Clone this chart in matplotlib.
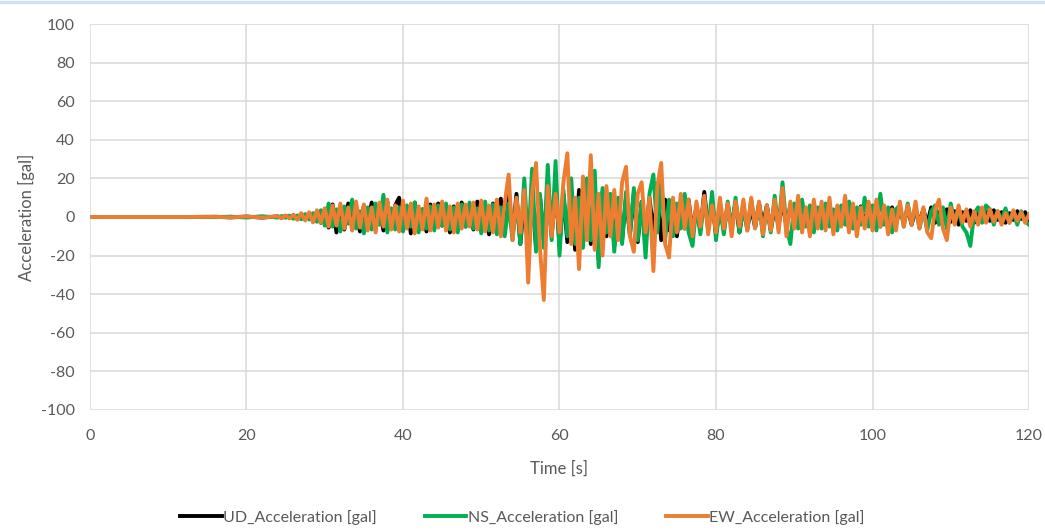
import numpy as np
import matplotlib
matplotlib.use('Agg')
import matplotlib.pyplot as plt
from matplotlib.lines import Line2D

# --- 1. DATA ---
# quiet part is sparse, the shaking part is read every 0.5 s from 24 s to 120 s
quiet_time = [0, 6, 12, 16, 18, 20, 22]
shake_time = np.arange(24, 120.25, 0.5)
time_s = np.concatenate([quiet_time, shake_time])

ud_quiet = [0.0, 0.0, 0.0, 0.1, -0.2, 0.2, -0.3]
ud_shake = [
    0.3, -0.4, 0.6, -0.5, 0.8, -1.0, 1.2, -0.8, 1.5, -1.8,        # 24
    2.5, -3.0, 4.0, -5.5, 6.5, -8.0, 5.0, -6.5, 7.0, -4.0,        # 29
    5.5, -7.5, 6.0, -3.5, 7.5, -6.0, 4.5, -7.0, 8.0, -5.5,        # 34
    6.0, 10.0, -7.0, 5.0, -8.5, 7.5, -6.0, 4.0, -7.5, 6.5,        # 39
    -5.5, 7.0, -4.5, 6.0, -8.0, 5.5, -6.5, 7.5, -5.0, 4.5,        # 44
    -6.5, 8.0, -7.0, 5.5, -9.0, 7.0, -6.0, 9.5, -8.0, 15.0,       # 49
    -10.0, 12.0, -14.0, 9.0, -18.0, 13.0, -16.0, 11.0, -12.0, 14.0,  # 54
    -10.0, 16.0, -15.0, 12.0, -13.0, 10.0, -17.0, 14.0, -11.0, 12.0,  # 59
    -14.0, 16.0, -22.0, 13.0, -10.0, 11.0, -15.0, 9.0, -12.0, 10.0,  # 64
    -9.0, 12.0, -13.0, 8.0, -11.0, 10.0, -8.0, 11.0, -12.0, 9.0,  # 69
    -7.0, 8.0, -10.0, 7.0, -6.0, 9.0, -8.0, 6.0, -7.0, 13.0,      # 74
    -6.0, 8.0, -9.0, 5.0, -7.0, 6.0, -5.0, 7.5, -8.0, 5.0,        # 79
    -6.0, 4.5, -5.5, 7.0, -4.0, 6.0, -7.0, 5.0, -4.5, 8.0,        # 84
    -5.0, 6.0, -4.0, 5.5, -6.0, 4.0, -5.0, 6.5, -3.5, 5.0,        # 89
    -4.5, 6.0, -5.0, 3.5, -4.0, 5.0, -6.0, 4.0, -3.0, 5.5,        # 94
    -4.0, 6.5, -3.5, 4.5, -5.0, 3.0, -4.0, 5.0, -3.5, 4.0,        # 99
    -3.0, 4.5, -4.0, 3.5, -2.5, 4.0, -3.5, 5.0, -3.0, 2.5,        # 104
    -3.5, 4.0, -2.5, 3.0, -4.0, 2.5, -2.0, 3.5, -3.0, 2.0,        # 109
    -2.5, 3.0, -2.0, 3.5, -1.5, 2.5, -3.0, 2.0, -1.5, 3.0,        # 114
    -1.0, 2.5, -2.0,                                              # 119
]

ns_quiet = [0.0, 0.0, 0.0, -0.1, 0.2, -0.3, 0.4]
ns_shake = [
    -0.3, 0.5, -0.4, 0.7, -0.9, 0.8, -1.2, 1.5, -1.3, 2.0,
    -2.5, 3.5, -4.5, 7.0, -5.0, 4.0, -7.5, 5.5, -3.5, 9.0,
    -6.0, 3.0, -8.5, 5.0, -6.5, 7.0, -4.0, 11.5, -8.0, 4.5,
    -6.5, 5.0, -7.5, 6.0, -5.0, 7.5, -8.0, 4.0, -6.0, 5.5,
    -7.0, 6.0, -4.5, 7.0, -6.5, 5.0, -8.0, 6.5, -5.0, 7.5,
    -6.0, 4.5, -8.5, 8.0, -7.0, 6.5, -9.0, 5.0, -10.0, 7.0,
    -12.0, 9.0, -14.0, 20.0, -15.0, 25.0, -18.0, 12.0, -16.0, 27.0,
    -12.0, 29.0, -20.0, 14.0, -10.0, 20.0, -14.0, 10.0, -16.0, 20.0,
    -12.0, 24.0, -26.0, 15.0, -8.0, 12.0, -18.0, 10.0, -14.0, 13.0,
    -10.0, 15.0, -12.0, 8.0, -21.0, 12.0, 22.0, -8.0, 18.0, -12.0,
    9.0, -10.0, 7.0, -6.0, 12.0, -8.0, -15.0, 6.0, -9.0, 10.0,
    -7.0, 13.0, -12.0, 6.0, -9.0, 8.0, -6.0, 10.0, -8.0, 5.0,
    -7.0, 9.0, -5.0, 7.0, -10.0, 6.0, -8.0, 11.0, -6.0, 18.0,
    -5.0, -14.0, 7.0, -6.0, 9.0, -5.0, 6.0, -8.0, 5.0, -6.0,
    7.0, -5.0, 4.0, -7.0, 6.0, -4.0, 8.0, -6.0, 5.0, -4.0,
    10.0, -5.0, 6.0, -7.0, 12.0, -4.0, 5.0, -8.0, 4.0, 6.0,
    -5.0, 7.0, -3.0, 5.0, -6.0, 4.0, -7.0, 3.0, 6.0, -4.0,
    5.0, -6.0, 7.0, -3.0, 4.0, -5.0, -8.0, -15.0, 2.0, 5.0,
    -3.0, 6.0, 4.0, -4.0, 3.0, -2.0, 4.5, -3.0, 2.5, -4.0,
    3.0, -2.0, -4.0,
]

ew_quiet = [0.0, 0.0, 0.0, 0.1, -0.2, 0.3, -0.3]
ew_shake = [
    0.4, -0.6, 0.8, -0.7, 1.2, -1.5, 2.0, -1.8, 2.5, -2.8,
    3.5, -3.0, 4.5, -5.0, 6.0, -4.5, 7.0, -6.0, 5.0, -7.0,
    8.0, -5.5, 6.5, -7.0, 5.0, -8.0, 7.5, -5.0, 9.0, -6.5,
    6.0, -7.5, 8.5, -6.0, 7.0, -8.5, 5.5, -6.5, 9.5, -7.0,
    6.5, -5.5, 8.0, -7.0, 5.5, -8.0, 7.0, -6.0, 6.5, -5.0,
    7.5, -6.5, 8.5, -7.5, 6.0, -8.0, 9.0, -10.0, 7.0, 22.0,
    -12.0, 10.0, -8.0, 14.0, -34.0, 12.0, 28.0, -16.0, -43.0, 16.0,
    -10.0, 12.0, -8.0, 18.0, 33.0, -14.0, 10.0, -27.0, 21.0, -12.0,
    32.0, -17.0, 12.0, -20.0, 16.0, -10.0, 14.0, -12.0, 18.0, 26.0,
    -10.0, -18.0, 12.0, 18.0, -8.0, 10.0, -28.0, 16.0, 28.0, -14.0,
    -21.0, 10.0, -8.0, 12.0, -6.0, 9.0, -10.0, 8.0, -5.0, 11.0,
    -9.0, 6.0, -8.0, 10.0, -6.0, 7.0, -10.0, 8.0, -5.0, 9.0,
    -7.0, 10.0, -6.0, 8.0, -9.0, 6.0, -7.0, 9.0, -8.0, 15.0,
    -10.0, 8.0, -6.0, 11.0, -8.0, 5.0, -10.0, 9.0, -6.0, 8.0,
    -7.0, 10.0, -9.0, 6.0, -5.0, 11.0, -8.0, 7.0, -10.0, 5.0,
    -6.0, 8.0, -7.0, 9.0, -5.0, 6.0, -9.0, 4.0, -7.0, 8.0,
    -5.0, 6.0, -4.0, 8.0, -6.0, 5.0, -8.0, -11.0, 4.0, 9.0,
    -6.0, -12.0, 5.0, -4.0, 6.0, -3.0, 4.0, -5.0, 3.0, -4.0,
    5.0, -3.0, 4.0, -2.5, 3.0, -4.0, 2.0, -3.0, 3.5, -2.0,
    2.5, -3.0, 1.5,
]

series = [
    ('UD_Acceleration [gal]', ud_quiet + ud_shake, '#000000'),
    ('NS_Acceleration [gal]', ns_quiet + ns_shake, '#00B050'),
    ('EW_Acceleration [gal]', ew_quiet + ew_shake, '#ED7D31'),
]

# --- 2. PLOT ---
plt.rcParams['font.family'] = ['Lato', 'DejaVu Sans']
plt.rcParams['axes.unicode_minus'] = False  # Excel-style hyphen minus
fig = plt.figure(figsize=(10.45, 5.31), dpi=100)
ax = fig.add_axes([0.0861, 0.2279, 0.8986, 0.7269])

for name, vals, col in series:
    assert len(vals) == len(time_s), name
    ax.plot(time_s, vals, color=col, lw=2.8, label=name, solid_joinstyle='round')

ax.set_xlim(0, 120)
ax.set_ylim(-100, 100)
ax.set_xticks(np.arange(0, 121, 20))
ax.set_yticks(np.arange(-100, 101, 20))
ax.grid(True, color='#D9D9D9', lw=1.1)
ax.set_axisbelow(True)
for s in ax.spines.values():
    s.set_visible(False)
ax.tick_params(length=0, labelsize=11.5, colors='#595959')
ax.tick_params(axis='x', pad=14)
ax.tick_params(axis='y', pad=11)
ax.set_xlabel('Time [s]', fontsize=12, color='#595959', labelpad=12)
ax.set_ylabel('Acceleration [gal]', fontsize=12, color='#595959', labelpad=4)

fig.legend(loc='center', bbox_to_anchor=(0.5, 0.026), ncol=3, frameon=False,
           fontsize=11.5, handlelength=2.6, handletextpad=0.1, columnspacing=3.0,
           labelcolor='#595959')

# thin blue strip along the top edge
fig.add_artist(Line2D([0, 1], [0.997, 0.997], color='#CFE2F3', lw=2.5,
                      transform=fig.transFigure))

fig.savefig('out.png', dpi=100)
